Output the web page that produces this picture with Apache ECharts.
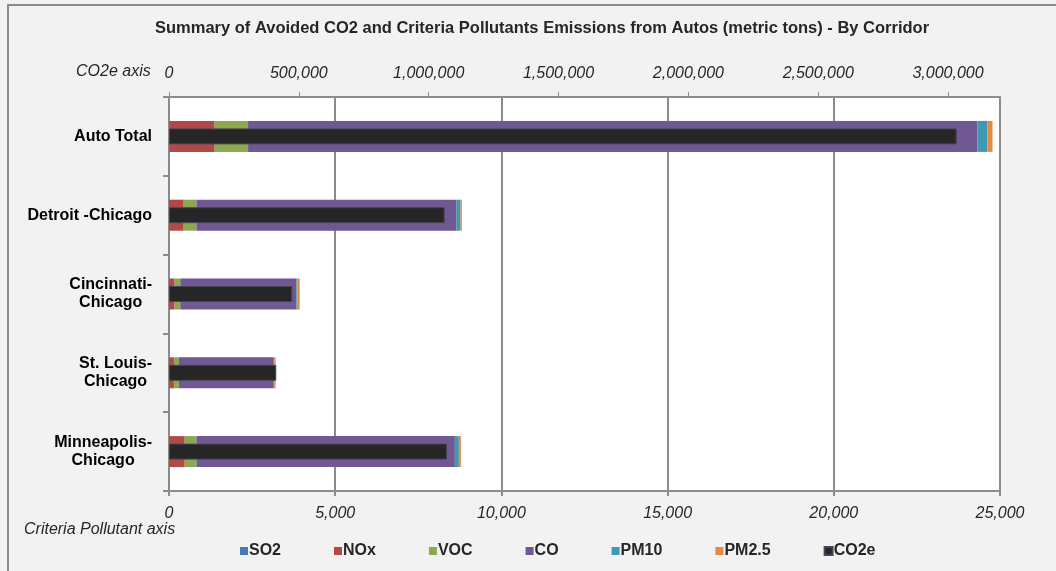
<!DOCTYPE html>
<html>
<head>
<meta charset="utf-8">
<script src="https://cdn.jsdelivr.net/npm/echarts@6/dist/echarts.min.js"></script>
<style>
html,body{margin:0;padding:0;background:#f2f2f2;}
#chart{width:1056px;height:571px;}
</style>
</head>
<body>
<div id="chart"></div>
<script>
// ---- data (metric tons) ----
const categories = ['Auto Total', 'Detroit -Chicago', 'Cincinnati-Chicago', 'St. Louis-Chicago', 'Minneapolis-Chicago'];
const categoryLabels = ['Auto Total', 'Detroit -Chicago', 'Cincinnati-\nChicago', 'St. Louis-\nChicago', 'Minneapolis-\nChicago'];
const so2  = [25, 6, 3, 3, 7];
const nox  = [1349, 436, 166, 145, 467];
const voc  = [1005, 383, 171, 150, 352];
const co   = [21944, 7826, 3492, 2830, 7775];
const pm10 = [301, 120, 40, 40, 120];
const pm25 = [150, 40, 60, 40, 60];
const co2e = [3033000, 1061700, 474700, 413000, 1070500];
const criteriaTicks = [0, 5000, 10000, 15000, 20000, 25000];
const co2eTicks = [0, 500000, 1000000, 1500000, 2000000, 2500000, 3000000];

const colors = {SO2:'#4a78b0', NOx:'#b04a48', VOC:'#8da94f', CO:'#705893', PM10:'#3e9ab2', PM25:'#e58a45', CO2e:'#262626'};
const font = '"Liberation Sans", Arial, sans-serif';
const axisGray = '#8c8c8c';
const fmt = v => Number(v).toLocaleString('en-US');

const chart = echarts.init(document.getElementById('chart'), null, {renderer:'canvas'});

function crit(name, data, color) {
  return {
    name: name, type: 'bar', stack: 'crit', data: data,
    xAxisIndex: 0, yAxisIndex: 0, barWidth: 31,
    itemStyle: {color: color}, z: 2
  };
}

const option = {
  backgroundColor: '#f2f2f2',
  animation: false,
  textStyle: {fontFamily: font},
  title: {
    text: 'Summary of Avoided CO2 and Criteria Pollutants Emissions from Autos (metric tons) - By Corridor',
    left: 150, top: 15,
    textStyle: {fontFamily: font, fontSize: 16.5, fontWeight: 'bold', color: '#262626'}
  },
  legend: {
    left: 235, top: 538,
    itemWidth: 8, itemHeight: 8, itemGap: 53, icon: 'rect',
    textStyle: {fontFamily: font, fontSize: 16, fontWeight: 'bold', color: '#262626', padding: [0,0,0,-4]},
    data: ['SO2','NOx','VOC','CO','PM10','PM2.5','CO2e']
  },
  graphic: [
    {type:'rect', shape:{x:8, y:5, width:1200, height:800}, style:{fill:'none', stroke:'#8c8c8c', lineWidth:2}, z:-1, silent:true},
    {type:'text', left: 76, top: 64, style:{text:'CO2e axis', font:'italic 16px ' + font, fill:'#262626'}},
    {type:'text', left: 24, top: 522, style:{text:'Criteria Pollutant axis', font:'italic 16px ' + font, fill:'#262626'}}
  ],
  grid: {
    left: 169, right: 56, top: 97, bottom: 80,
    show: true, backgroundColor: '#ffffff', borderWidth: 0
  },
  xAxis: [
    {
      type: 'value', position: 'bottom', min: criteriaTicks[0], max: criteriaTicks[criteriaTicks.length-1],
      interval: criteriaTicks[1] - criteriaTicks[0],
      axisLine: {show: true, lineStyle: {color: axisGray, width: 2}},
      axisTick: {show: true, length: 5, lineStyle: {color: axisGray, width: 2}},
      splitLine: {show: true, lineStyle: {color: axisGray, width: 2}},
      axisLabel: {margin: 15, fontFamily: font, fontSize: 16, fontStyle: 'italic', color: '#262626', formatter: fmt}
    },
    {
      type: 'value', position: 'top', min: co2eTicks[0], max: 3200000,
      interval: co2eTicks[1] - co2eTicks[0],
      axisLine: {show: true, lineStyle: {color: axisGray, width: 2}},
      axisTick: {show: true, length: 5, lineStyle: {color: axisGray, width: 1}},
      splitLine: {show: false},
      axisLabel: {margin: 15, showMaxLabel: false, fontFamily: font, fontSize: 16, fontStyle: 'italic', color: '#262626', formatter: fmt}
    }
  ],
  yAxis: [
    {
      type: 'category', inverse: true, data: categories,
      axisLine: {show: true, lineStyle: {color: axisGray, width: 2}},
      axisTick: {show: true, length: 6, lineStyle: {color: axisGray, width: 2}},
      axisLabel: {
        margin: 17, align: 'right',
        formatter: (v, i) => categoryLabels[i].split('\n').map(s => '{c|' + s + '}').join('\n'),
        rich: {c: {align: 'center', fontFamily: font, fontSize: 16, fontWeight: 'bold', color: '#000', lineHeight: 18}}
      }
    },
    {
      type: 'category', inverse: true, data: categories, show: false
    }
  ],
  series: [
    crit('SO2', so2, colors.SO2),
    crit('NOx', nox, colors.NOx),
    crit('VOC', voc, colors.VOC),
    crit('CO', co, colors.CO),
    crit('PM10', pm10, colors.PM10),
    crit('PM2.5', pm25, colors.PM25),
    {
      name: 'CO2e', type: 'bar', data: co2e, xAxisIndex: 1, yAxisIndex: 1, barWidth: 16,
      itemStyle: {color: colors.CO2e, borderColor: '#4a4458', borderWidth: 1}, z: 5
    }
  ]
};
chart.setOption(option);
</script>
</body>
</html>
